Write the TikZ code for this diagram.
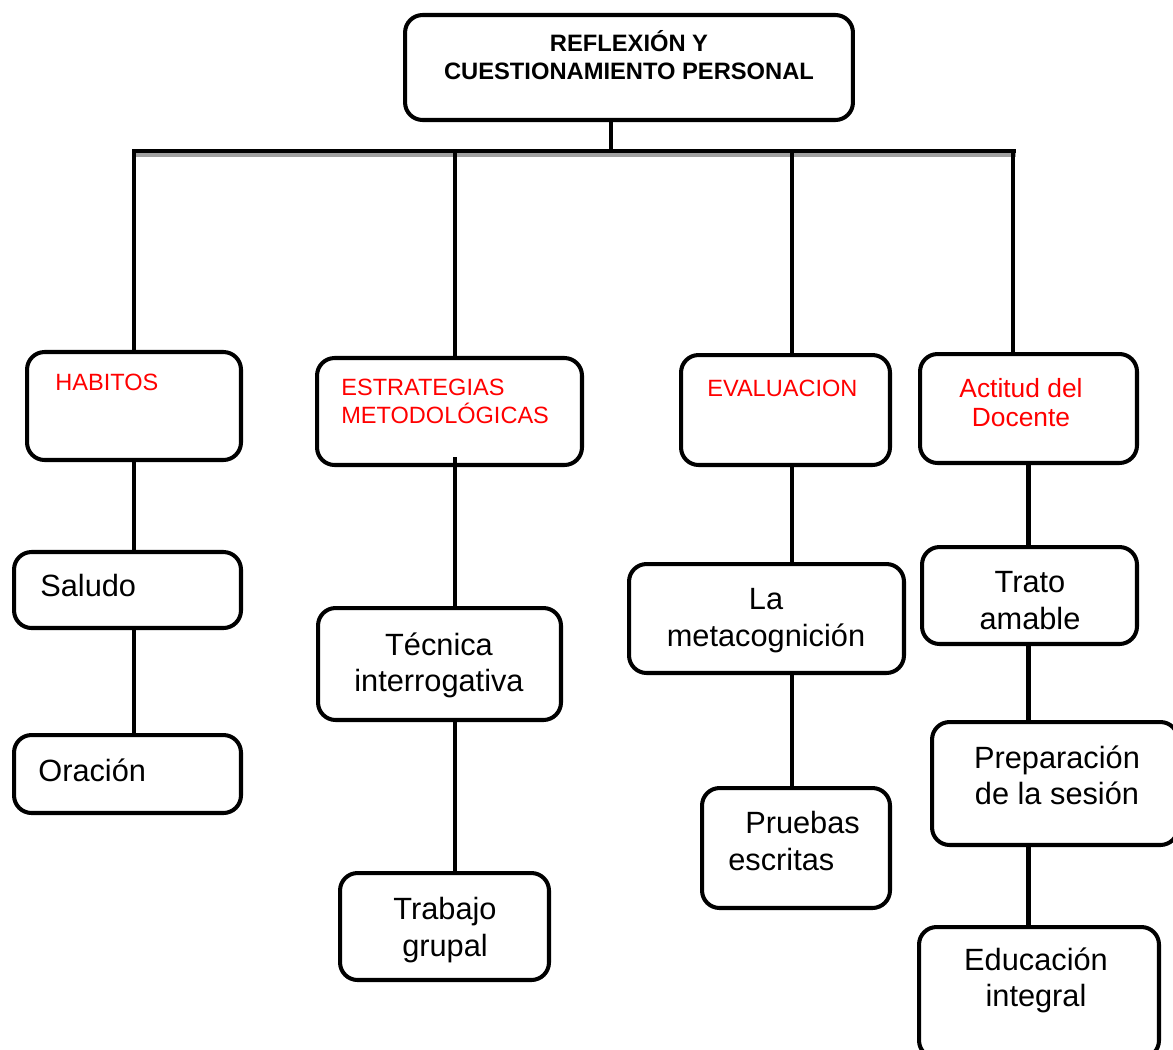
\documentclass[tikz,border=0pt]{standalone}
\usepackage{fontspec}
\setmainfont{Liberation Sans}
\usepackage{tikz}
\definecolor{lblred}{RGB}{255,0,0}
\definecolor{barshade}{RGB}{160,160,160}
\tikzset{
  box/.style={rectangle, draw=black, line width=2.3pt, rounded corners=10pt, inner sep=0pt},
  conn/.style={line width=2.3pt, color=black},
  bodytxt/.style={inner sep=0pt, font=\fontsize{17.5}{21}\selectfont, align=center},
  redtxt/.style={inner sep=0pt, text=lblred, font=\fontsize{13.4}{15.5}\selectfont, align=left},
  titletxt/.style={inner sep=0pt, font=\bfseries\fontsize{13.5}{16}\selectfont, align=center}
}
\begin{document}
\begin{tikzpicture}[x=0.02cm, y=-0.02cm]
  \useasboundingbox (0,0) rectangle (1173,1049);

  % Boxes
  \node[box, minimum width=8.96cm, minimum height=2.10cm] (top) at (629,67.5) {};
  \node[box, minimum width=4.28cm, minimum height=2.16cm] (habitos) at (134,406) {};
  \node[box, minimum width=5.30cm, minimum height=2.14cm] (estrat) at (449.5,411.5) {};
  \node[box, minimum width=4.18cm, minimum height=2.20cm] (evalua) at (785.5,410) {};
  \node[box, minimum width=4.34cm, minimum height=2.18cm] (actitud) at (1028.5,408.5) {};
  \node[box, minimum width=4.54cm, minimum height=1.52cm] (saludo) at (127.5,590) {};
  \node[box, minimum width=4.54cm, minimum height=1.56cm] (oracion) at (127.5,774) {};
  \node[box, minimum width=4.86cm, minimum height=2.24cm] (tecnica) at (439.5,664) {};
  \node[box, minimum width=4.18cm, minimum height=2.14cm] (trabajo) at (444.5,926.5) {};
  \node[box, minimum width=5.50cm, minimum height=2.18cm] (metacog) at (766.5,618.5) {};
  \node[box, minimum width=3.76cm, minimum height=2.40cm] (pruebas) at (796,848) {};
  \node[box, minimum width=4.30cm, minimum height=1.94cm] (trato) at (1029.5,595.5) {};
  \node[box, minimum width=4.92cm, minimum height=2.46cm] (prep) at (1055,783.5) {};
  \node[box, minimum width=4.80cm, minimum height=2.62cm] (educ) at (1039,992.5) {};

  % Texts
  \node[titletxt, anchor=north] (topT) at (629,30) {REFLEXIÓN Y\\CUESTIONAMIENTO PERSONAL};
  \node[redtxt, anchor=base west] (habitosT) at (55,390) {HABITOS};
  \node[redtxt, anchor=north west] (estratT) at (341,379) {ESTRATEGIAS\\METODOLÓGICAS};
  \node[redtxt, anchor=base west] (evaluaT) at (707,396) {EVALUACION};
  \node[redtxt, align=center, anchor=north, font=\fontsize{15}{16.6}\selectfont] (actitudT) at (1021,378) {Actitud del\\Docente};
  \node[bodytxt, anchor=base west] (saludoT) at (40,596) {Saludo};
  \node[bodytxt, anchor=base west] (oracionT) at (38,781) {Oración};
  \node[bodytxt, anchor=north] (tecnicaT) at (439,632) {Técnica\\interrogativa};
  \node[bodytxt, anchor=north] (trabajoT) at (445,897) {Trabajo\\grupal};
  \node[bodytxt, anchor=north] (metacogT) at (766,588) {La\\metacognición};
  \node[bodytxt, align=left, anchor=north west] (pruebasT) at (728,811) {\hspace*{0.55em}Pruebas\\escritas};
  \node[bodytxt, anchor=north] (tratoT) at (1030,571) {Trato\\amable};
  \node[bodytxt, anchor=north] (prepT) at (1057,745) {Preparación\\de la sesión};
  \node[bodytxt, anchor=north] (educT) at (1036,947) {Educación\\integral};

  % Trunk and bar
  \coordinate (barL) at (132,151);
  \coordinate (barR) at (1016,151);
  \draw[conn] ([xshift=-0.36cm]top.south) -- ([xshift=-0.36cm]top.south |- barL);
  \draw[line width=2.8pt, barshade] ([yshift=-0.08cm]barL) -- ([yshift=-0.08cm]barR);
  \draw[line width=2.8pt] (barL) -- (barR);

  % Drops to the four branches
  \draw[conn] (habitos.north |- barL) -- (habitos.north);
  \draw[conn] ([xshift=0.11cm]estrat.north |- barL) -- ([xshift=0.11cm]estrat.north);
  \draw[conn] ([xshift=0.13cm]evalua.north |- barL) -- ([xshift=0.13cm]evalua.north);
  \draw[conn] ([xshift=-0.31cm]actitud.north |- barL) -- ([xshift=-0.31cm]actitud.north);

  % Branch chains
  \draw[conn] (habitos.south) -- (habitos.south |- saludo.north);
  \draw[conn] (habitos.south |- saludo.south) -- (habitos.south |- oracion.north);
  \draw[conn] ([xshift=0.11cm, yshift=0.2cm]estrat.south) -- ([xshift=0.11cm]estrat.south |- tecnica.north);
  \draw[conn] ([xshift=0.11cm]estrat.south |- tecnica.south) -- ([xshift=0.11cm]estrat.south |- trabajo.north);
  \draw[conn] ([xshift=0.13cm]evalua.south) -- ([xshift=0.13cm]evalua.south |- metacog.north);
  \draw[conn] ([xshift=0.13cm]evalua.south |- metacog.south) -- ([xshift=0.13cm]evalua.south |- pruebas.north);
  \draw[conn] (actitud.south) -- (actitud.south |- trato.north);
  \draw[conn] (actitud.south |- trato.south) -- (actitud.south |- prep.north);
  \draw[conn] (actitud.south |- prep.south) -- (actitud.south |- educ.north);
\end{tikzpicture}
\end{document}
